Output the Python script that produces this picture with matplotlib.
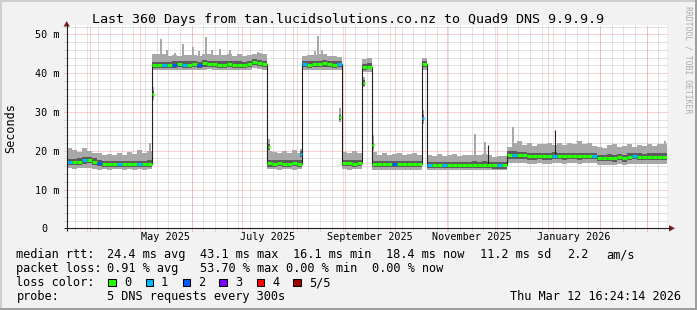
import numpy as np
import matplotlib
matplotlib.use("Agg")
import matplotlib.pyplot as plt
from matplotlib.patches import Rectangle, Polygon

# ---------------- data (3-day bins over the last 360 days, values in ms) ----------------
median = [
    17.1, 17.1, 17.2, 17.5, 17.6, 17.2, 16.9, 16.6, 16.6, 16.5, 16.6, 16.5, 16.6, 16.6, 16.5, 16.6, 16.5,
    42.0, 42.0, 42.1, 42.0, 42.2, 42.3, 42.2, 42.2, 42.3, 42.1, 42.5, 42.4, 42.3, 42.2, 42.2, 42.3, 42.2,
    42.2, 42.1, 42.3, 42.8, 42.7, 42.3,
    16.8, 16.7, 16.8, 16.7, 16.7, 16.8, 16.7,
    42.3, 42.2, 42.4, 42.3, 42.5, 42.3, 42.2, 42.3,
    16.8, 16.8, 16.7, 16.8,
    41.6, 41.7,
    16.5, 16.5, 16.6, 16.5, 16.5, 16.6, 16.5, 16.5, 16.6, 16.5,
    42.3,
    16.4, 16.4, 16.3, 16.4, 16.4, 16.3, 16.4, 16.4, 16.3, 16.4, 16.4, 16.4, 16.4, 16.2, 16.2, 16.2,
    18.9, 18.9, 18.9, 18.8, 18.6, 18.6, 18.7, 18.6, 18.6, 18.7, 18.7, 18.6, 18.7, 18.7, 18.6, 18.7,
    18.7, 18.7, 18.1, 18.1, 18.2, 18.0, 18.3, 18.0, 18.4, 18.6, 18.4, 18.3, 18.5, 18.4, 18.4, 18.4,
]
smoke_max = [
    20.6, 20.3, 19.7, 20.7, 20.0, 19.4, 19.3, 18.9, 19.2, 18.9, 19.4, 19.0, 19.6, 19.2, 20.1, 19.5, 19.8,
    44.8, 44.8, 44.8, 44.5, 44.6, 44.4, 44.7, 44.6, 44.6, 44.5, 44.9, 45.0, 44.7, 44.6, 44.6, 44.8, 44.4,
    44.8, 44.3, 44.6, 45.0, 45.2, 44.8,
    19.8, 19.6, 19.3, 20.0, 19.5, 20.1, 19.4,
    44.3, 44.6, 44.6, 44.8, 44.9, 44.5, 44.4, 44.2,
    19.6, 19.3, 19.9, 19.4,
    43.6, 43.8,
    19.6, 19.0, 19.4, 18.9, 19.2, 19.5, 18.8, 19.1, 19.3, 19.0,
    44.0,
    19.0, 18.7, 19.1, 18.6, 18.9, 19.2, 18.6, 18.8, 19.0, 19.0, 18.9, 19.1, 19.0, 18.5, 18.7, 18.6,
    21.0, 22.0, 22.4, 21.5, 22.0, 21.3, 21.8, 21.6, 22.1, 21.5, 21.9, 21.4, 22.0, 21.7, 22.5, 21.6,
    21.9, 21.3, 21.0, 20.8, 21.4, 21.6, 20.9, 21.2, 21.8, 21.0, 21.5, 21.2, 21.7, 21.1, 21.6, 21.8,
]
smoke_min = [
    15.5, 15.4, 15.5, 15.6, 15.5, 15.2, 15.1, 15.2, 15.1, 15.2, 15.2, 15.1, 15.2, 15.1, 15.2, 15.1, 15.3,
    40.9, 40.8, 40.9, 40.7, 40.8, 40.9, 40.8, 40.8, 40.7, 40.9, 40.8, 41.0, 40.9, 40.8, 40.8, 40.9, 40.8,
    40.7, 40.8, 40.9, 41.2, 41.1, 40.9,
    15.2, 15.2, 15.1, 15.2, 15.2, 15.1, 15.2,
    40.8, 40.9, 40.8, 40.9, 40.8, 40.9, 40.8, 40.8,
    15.2, 15.1, 15.2, 15.2,
    40.3, 40.4,
    15.1, 15.0, 15.1, 15.1, 15.0, 15.1, 15.1, 15.0, 15.1, 15.1,
    40.8,
    15.0, 15.1, 15.0, 15.0, 15.1, 15.0, 15.0, 15.1, 15.0, 15.0, 15.1, 15.0, 15.1, 14.9, 14.9, 15.0,
    16.8, 16.8, 16.9, 16.8, 16.7, 16.7, 16.8, 16.7, 16.7, 16.8, 16.8, 16.7, 16.8, 16.8, 16.7, 16.8,
    16.8, 16.8, 16.3, 16.3, 16.4, 16.2, 16.5, 16.2, 16.6, 16.7, 16.6, 16.5, 16.7, 16.6, 16.6, 16.6,
]
smoke_hi = [
    17.9, 17.9, 18.0, 18.3, 18.4, 18.0, 17.7, 17.4, 17.4, 17.3, 17.4, 17.3, 17.4, 17.4, 17.3, 17.4, 17.5,
    42.8, 42.9, 42.9, 42.8, 43.0, 43.1, 43.0, 43.0, 43.1, 42.9, 43.3, 43.2, 43.1, 43.0, 43.0, 43.1, 43.0,
    43.0, 42.9, 43.1, 43.6, 43.5, 43.1,
    17.6, 17.5, 17.6, 17.5, 17.5, 17.6, 17.5,
    43.1, 43.0, 43.2, 43.2, 43.3, 43.1, 43.0, 43.0,
    17.6, 17.6, 17.5, 17.6,
    42.4, 42.5,
    17.4, 17.3, 17.4, 17.3, 17.3, 17.4, 17.3, 17.3, 17.4, 17.3,
    43.1,
    17.2, 17.2, 17.1, 17.2, 17.2, 17.1, 17.2, 17.2, 17.1, 17.3, 17.2, 17.3, 17.2, 17.0, 17.0, 17.0,
    19.8, 19.9, 19.7, 19.6, 19.4, 19.5, 19.5, 19.4, 19.5, 19.6, 19.5, 19.4, 19.5, 19.5, 19.5, 19.5,
    19.5, 19.5, 19.0, 19.0, 19.1, 18.9, 19.2, 18.9, 19.3, 19.4, 19.3, 19.2, 19.4, 19.3, 19.3, 19.3,
]
smoke_lo = [
    16.3, 16.3, 16.4, 16.7, 16.8, 16.4, 16.1, 15.8, 15.8, 15.7, 15.8, 15.7, 15.8, 15.8, 15.7, 15.8, 15.7,
    41.2, 41.2, 41.3, 41.2, 41.4, 41.5, 41.4, 41.4, 41.5, 41.3, 41.7, 41.6, 41.5, 41.4, 41.4, 41.5, 41.4,
    41.4, 41.3, 41.5, 42.0, 41.9, 41.5,
    15.9, 15.9, 16.0, 15.9, 15.9, 16.0, 15.9,
    41.5, 41.4, 41.6, 41.5, 41.7, 41.5, 41.4, 41.5,
    16.0, 16.0, 15.9, 16.0,
    40.9, 41.0,
    15.7, 15.7, 15.8, 15.7, 15.7, 15.8, 15.7, 15.7, 15.8, 15.7,
    41.5,
    15.6, 15.6, 15.5, 15.6, 15.6, 15.5, 15.6, 15.6, 15.5, 15.6, 15.6, 15.6, 15.6, 15.4, 15.4, 15.4,
    17.9, 17.9, 17.9, 17.8, 17.7, 17.7, 17.8, 17.7, 17.7, 17.8, 17.8, 17.7, 17.8, 17.8, 17.7, 17.8,
    17.8, 17.8, 17.3, 17.3, 17.4, 17.2, 17.5, 17.2, 17.6, 17.8, 17.6, 17.5, 17.7, 17.6, 17.6, 17.6,
]
loss = [
    1, 0, 0, 1, 0, 0, 2, 0, 0, 0, 1, 0, 0, 0, 1, 0, 0,
    0, 0, 1, 0, 2, 0, 1, 0, 0, 2, 0, 0, 0, 0, 0, 0, 0,
    0, 0, 0, 0, 0, 0,
    0, 0, 0, 0, 0, 0, 0,
    1, 0, 0, 0, 0, 0, 0, 1,
    0, 0, 0, 0,
    0, 0,
    0, 0, 0, 0, 2, 0, 0, 0, 0, 0,
    0,
    1, 0, 0, 1, 0, 0, 0, 0, 0, 0, 0, 0, 0, 0, 1, 0,
    0, 1, 0, 0, 0, 0, 0, 0, 0, 1, 0, 0, 0, 0, 0, 0,
    0, 1, 0, 0, 0, 0, 0, 0, 0, 1, 0, 0, 0, 0, 0, 0,
]
bin_days = 3

# narrow smoke peaks (day, ms)
peak_day = [50.1, 56.7, 60.0, 65.1, 69.8, 75.9, 79.5, 83.7, 87.3, 92.1, 98.1, 115.0,
            149.1, 150.9, 153.3, 245.0, 251.1, 267.9, 306.3, 359.0]
peak_ms = [22.0, 48.9, 45.9, 45.3, 47.6, 46.7, 45.6, 49.3, 46.0, 46.3, 45.9, 45.4,
           45.6, 49.5, 45.9, 24.4, 22.2, 26.1, 22.5, 22.5]

# single samples caught on the level changes (day, ms, loss class, smoke low, smoke high)
step_day = [51.6, 121.2, 140.5, 164.1, 178.5, 183.6, 213.9]
step_ms = [34.6, 21.0, 19.2, 28.6, 37.4, 21.4, 28.4]
step_loss = [0, 0, 1, 0, 0, 0, 1]
step_lo = [33.0, 19.5, 18.0, 27.5, 36.5, 20.0, 27.0]
step_hi = [36.5, 23.0, 20.5, 31.0, 39.0, 24.0, 30.5]

# short median spikes drawn only by the dark median line
spike_day = [252.9, 292.7]
spike_ms = [21.4, 25.3]

loss_colors = ["#26ff00", "#00b8ff", "#0059ff", "#7e00ff", "#ff0000", "#a00000"]
loss_labels = ["0", "1", "2", "3", "4", "5/5"]

y_ticks = [0, 10, 20, 30, 40, 50]
y_tick_labels = ["0", "10 m", "20 m", "30 m", "40 m", "50 m"]
month_label_months = ["2025-05", "2025-07", "2025-09", "2025-11", "2026-01"]
month_label_texts = ["May 2025", "July 2025", "September 2025", "November 2025", "January 2026"]

title = "Last 360 Days from tan.lucidsolutions.co.nz to Quad9 DNS 9.9.9.9"
stats_rtt = ["median rtt:", "24.4 ms avg", "43.1 ms max", "16.1 ms min", "18.4 ms now",
             "11.2 ms sd", "2.2", "am/s"]
stats_loss = ["packet loss:", "0.91 % avg", "53.70 % max", "0.00 % min", "0.00 % now"]
probe_text = ["probe:", "5 DNS requests every 300s"]
stamp = "Thu Mar 12 16:24:14 2026"

# ---------------- layout ----------------
W, H = 697, 310
PL, PR, PT, PB = 66.7, 666.7, 25.0, 228.3
YMAX = 52.4
XMAX = 360.0
start = np.datetime64("2025-03-18T00:00")

MONO = "DejaVu Sans Mono"
BG = "#f2f2f2"
GRID = "#c6c6c6"
MGRID = "#f0a4a4"
LIGHT = "#a8a8a8"
DARK = "#5c5c5c"
AXIS = "#1f1f1f"
ARROW = "#801f1f"

fig = plt.figure(figsize=(W / 100, H / 100), dpi=100)
fig.patch.set_facecolor(BG)

under = fig.add_axes([0, 0, 1, 1], zorder=0)
under.set_xlim(0, W)
under.set_ylim(H, 0)
under.set_axis_off()

ax = fig.add_axes([PL / W, (H - PB) / H, (PR - PL) / W, (PB - PT) / H], zorder=1)
ax.set_facecolor("white")
ax.set_xlim(0, XMAX)
ax.set_ylim(0, YMAX)
for s in ax.spines.values():
    s.set_visible(False)
ax.set_xticks([])
ax.set_yticks([])

top = fig.add_axes([0, 0, 1, 1], zorder=5)
top.set_xlim(0, W)
top.set_ylim(H, 0)
top.set_axis_off()
top.patch.set_alpha(0)


def px_x(day):
    return PL + (PR - PL) * day / XMAX


def px_y(v):
    return PB - (PB - PT) * v / YMAX


def days_of(dt):
    return (dt.astype("datetime64[m]") - start) / np.timedelta64(1, "D")


# ---------------- grid ----------------
dot = (0, (1, 1))
ext_x = 2.5 / (PR - PL)
ext_y = 2.5 / (PB - PT)
for v in range(2, 53, 2):
    if v % 10 == 0:
        continue
    ax.axhline(v, xmin=-ext_x, xmax=1, color=GRID, lw=0.72, ls=dot, zorder=0.5, clip_on=False)
sundays = np.arange(np.datetime64("2025-03-23"), np.datetime64("2026-03-13"), 7)
for d in days_of(sundays):
    if 0 < d < XMAX:
        ax.axvline(d, ymin=-ext_y, ymax=1, color=GRID, lw=0.72, ls=dot, zorder=0.5, clip_on=False)
for v in y_ticks[1:]:
    ax.axhline(v, xmin=-ext_x, xmax=1, color=MGRID, lw=0.72, ls=dot, zorder=0.6, clip_on=False)
month_starts = np.arange(np.datetime64("2025-04"), np.datetime64("2026-04"), dtype="datetime64[M]")
for d in days_of(month_starts):
    if 0 < d < XMAX:
        ax.axvline(d, ymin=-ext_y, ymax=1, color=MGRID, lw=0.72, ls=dot, zorder=0.6, clip_on=False)

# ---------------- smoke + median ----------------
edges = np.arange(len(median) + 1) * bin_days
ax.stairs(smoke_max, edges, baseline=smoke_min, fill=True, color=LIGHT, lw=0, zorder=2)
pk_base = np.array([smoke_max[int(d // bin_days)] for d in peak_day])
ax.bar(peak_day, np.array(peak_ms) - pk_base + 0.3, bottom=pk_base - 0.3, width=1.1,
       color=LIGHT, lw=0, zorder=2)
ax.stairs(smoke_hi, edges, baseline=smoke_lo, fill=True, color=DARK, lw=0, zorder=3)
sd = np.array(step_day)
ax.bar(sd, np.array(step_hi) - np.array(step_lo), bottom=step_lo, width=1.3,
       color=LIGHT, lw=0, zorder=2)
ax.bar(sd, 1.4, bottom=np.array(step_ms) - 0.7, width=1.3, color=DARK, lw=0, zorder=3)

ax.stairs(median, edges, baseline=None, color="#202020", lw=0.8, zorder=4)
spike_base = [median[int(d // bin_days)] for d in spike_day]
ax.vlines(spike_day, spike_base, spike_ms, color="#202020", lw=0.8, zorder=4)

ax.hlines(median, edges[:-1], edges[1:], colors=[loss_colors[k] for k in loss],
          lw=2.2, zorder=5, capstyle="butt")
ax.hlines(step_ms, sd - 0.6, sd + 0.6, colors=[loss_colors[k] for k in step_loss],
          lw=2.2, zorder=5, capstyle="butt")

# ---------------- frame / axes / arrows ----------------
under.add_patch(Rectangle((0, 0), W, 2, color="#cfcfcf", lw=0))
under.add_patch(Rectangle((0, 0), 2, H, color="#cfcfcf", lw=0))
top.add_patch(Rectangle((0, H - 2), W, 2, color="#9e9e9e", lw=0))
top.add_patch(Rectangle((W - 2, 0), 2, H, color="#9e9e9e", lw=0))

top.plot([PL, PL], [PB + 3, 24], color=AXIS, lw=0.8, solid_capstyle="butt")
top.plot([PL - 3, 671], [PB, PB], color=AXIS, lw=0.8, solid_capstyle="butt")
top.add_patch(Polygon([[PL, 21.0], [PL - 3.2, 26.5], [PL + 3.2, 26.5]], closed=True, color=ARROW, lw=0))
top.add_patch(Polygon([[675.0, PB], [669.0, PB - 3.2], [669.0, PB + 3.2]], closed=True, color=ARROW, lw=0))

# ---------------- text ----------------
top.text(348.5, 23.3, title, ha="center", va="baseline", fontsize=9.6, family=MONO, color="black")
top.text(11.0, 128.0, "Seconds", ha="center", va="center", rotation=90, fontsize=8.5,
         family=MONO, color="black")
top.text(687.8, 60.0, "RRDTOOL / TOBI OETIKER", ha="center", va="center", rotation=270,
         fontsize=5.9, family=MONO, color="#ababab")

for v, lab in zip(y_ticks, y_tick_labels):
    x0 = 35.3 if len(lab) > 1 else 41.4
    top.text(x0, px_y(v) + 4.0, lab, ha="left", va="baseline", fontsize=7.3, family=MONO, color="black")

for m, lab in zip(month_label_months, month_label_texts):
    m0 = np.datetime64(m, "M")
    mid = (days_of(m0) + days_of(m0 + 1)) / 2
    top.text(px_x(mid), 240.5, lab, ha="center", va="baseline", fontsize=7.3, family=MONO, color="black")

FS = 8.55
rtt_x = [16.5, 107, 200, 293, 386, 480, 567.5, 606.5]
for x0, s in zip(rtt_x, stats_rtt):
    top.text(x0, 258.0, s, ha="left", va="baseline", fontsize=FS, family=MONO, color="black")
loss_x = [16.5, 107, 200, 286.5, 372.5]
for x0, s in zip(loss_x, stats_loss):
    top.text(x0, 272.0, s, ha="left", va="baseline", fontsize=FS, family=MONO, color="black")
top.text(16.5, 286.0, "loss color:", ha="left", va="baseline", fontsize=FS, family=MONO, color="black")
box_x = [108.3, 145.5, 182.5, 219.3, 256.5, 293.3]
for bx, c, lab in zip(box_x, loss_colors, loss_labels):
    top.add_patch(Rectangle((bx, 278.5), 7.3, 7.3, facecolor=c, edgecolor="black", lw=0.75))
    top.text(bx + 15.5, 286.0, lab, ha="left", va="baseline", fontsize=FS, family=MONO, color="black")
top.text(16.5, 300.0, probe_text[0], ha="left", va="baseline", fontsize=FS, family=MONO, color="black")
top.text(107, 300.0, probe_text[1], ha="left", va="baseline", fontsize=FS, family=MONO, color="black")
top.text(680.5, 300.0, stamp, ha="right", va="baseline", fontsize=FS, family=MONO, color="black")

fig.savefig("out.png", dpi=100, facecolor=BG)
